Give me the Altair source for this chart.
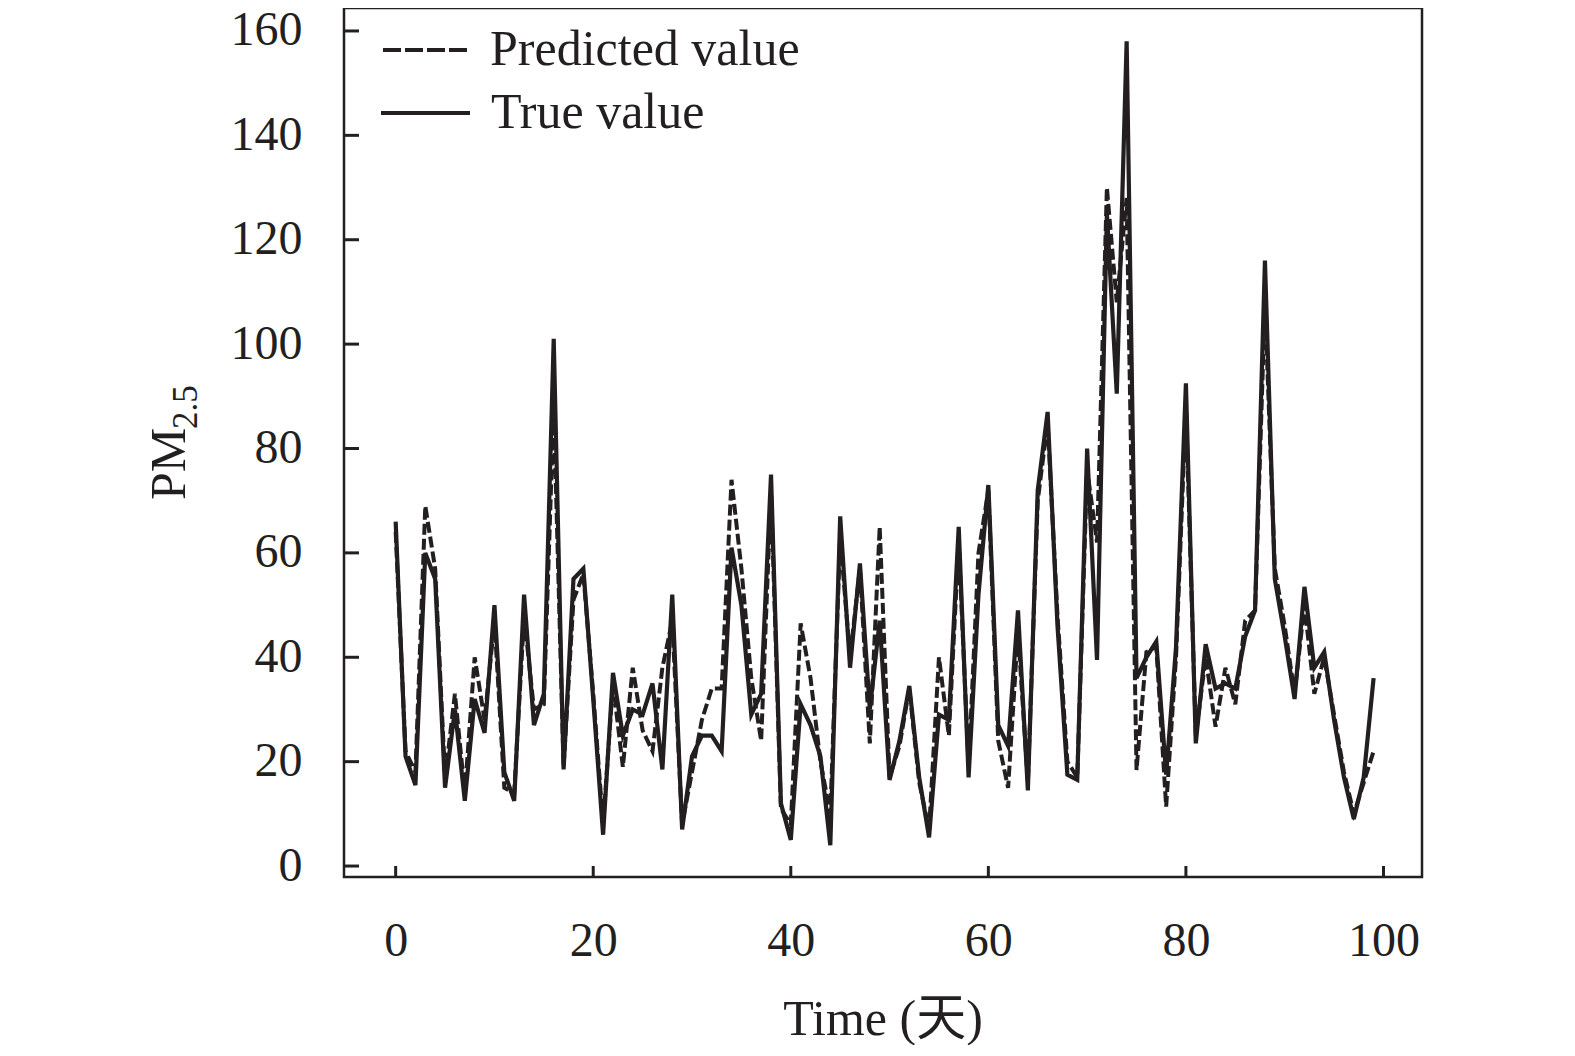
import pandas as pd
import altair as alt

# PM2.5 daily series
days = list(range(100))
true_vals = [66, 21, 15.5, 60, 55, 15, 30, 12.5, 32, 25.5,
             50, 18, 12.5, 52, 27, 33, 101, 18.5, 55, 57,
             32, 6, 37, 25, 30, 29, 35, 18.5, 52, 7,
             21, 25, 25, 22, 61, 50, 29, 33, 75, 12,
             5, 31, 27, 21, 4, 67, 38, 58, 30, 47,
             16.5, 24, 34.5, 17, 5.5, 29, 28, 65, 17, 52,
             73, 27, 23, 49, 14.5, 72, 87, 46, 17.5, 16.5,
             80, 39.5, 125, 90.5, 158, 36, 40, 43, 17.5, 42,
             92.5, 23.5, 42.5, 34, 35, 34, 44, 49, 116, 55,
             44, 32, 53.5, 38, 41, 28, 17, 9, 17, 36]
pred_vals = [64, 22, 18, 69, 57, 17, 33, 14, 40, 28,
             47, 15, 14, 48, 30, 31, 88, 19, 51, 56,
             33, 8, 35, 19, 38, 26, 22, 38, 47, 8,
             18, 28, 34, 34, 74, 57, 36, 24, 72, 11,
             8, 46.5, 36, 20, 10, 63, 40, 57, 23.5, 65,
             17, 23, 34, 16, 7, 40, 25, 62, 19, 60,
             72, 24, 15, 45, 16, 70, 85, 48, 20, 17,
             76, 62, 130, 108, 128, 18.4, 41, 42, 11.4, 40,
             88, 25, 40, 26.7, 38, 31, 47, 49, 108, 57,
             46, 33, 50, 33, 40, 29, 18, 10, 16, 22]
x_ticks = [0, 20, 40, 60, 80, 100]
y_ticks = [0, 20, 40, 60, 80, 100, 120, 140, 160]

ink = "#231f20"
serif = "Liberation Serif, 'Times New Roman', serif"
cjk = "Liberation Serif, 'Noto Sans CJK SC', serif"

true_df = pd.DataFrame({"day": days, "value": true_vals})
pred_df = pd.DataFrame({"day": days, "value": pred_vals})

x_scale = alt.Scale(domain=[-5.23, 103.9], nice=False, zero=False)
y_scale = alt.Scale(domain=[-2.1, 164.4], nice=False, zero=False)

x_enc = alt.X("day:Q", scale=x_scale,
              axis=alt.Axis(values=x_ticks, title="", grid=False, domain=False, ticks=False,
                            labelFont=serif, labelFontSize=48, labelColor=ink,
                            labelPadding=40, labelFlush=False))
y_enc = alt.Y("value:Q", scale=y_scale,
              axis=alt.Axis(values=y_ticks, title="", grid=False, domain=False, ticks=False,
                            labelFont=serif, labelFontSize=48, labelColor=ink,
                            labelPadding=42))

true_line = alt.Chart(true_df).mark_line(color=ink, strokeWidth=4.2).encode(x=x_enc, y=y_enc)
pred_line = alt.Chart(pred_df).mark_line(color=ink, strokeWidth=4, strokeDash=[11, 4]).encode(
    x="day:Q", y="value:Q")

# inward tick marks
ytick_df = pd.DataFrame({"value": y_ticks})
xtick_df = pd.DataFrame({"day": x_ticks})
ytick = alt.Chart(ytick_df).mark_rule(color=ink, strokeWidth=3).encode(
    y="value:Q", x=alt.value(0), x2=alt.value(15))
xtick = alt.Chart(xtick_df).mark_rule(color=ink, strokeWidth=3).encode(
    x="day:Q", y=alt.value(858), y2=alt.value(869))

# legend drawn by hand
one = pd.DataFrame({"a": [0]})
leg_pred = alt.Chart(one).mark_rule(color=ink, strokeWidth=4.2, strokeDash=[18, 4]).encode(
    x=alt.value(39), x2=alt.value(124), y=alt.value(42))
leg_true = alt.Chart(one).mark_rule(color=ink, strokeWidth=4.2).encode(
    x=alt.value(37), x2=alt.value(126), y=alt.value(105))
leg_pred_txt = alt.Chart(one).mark_text(text="Predicted value", align="left", baseline="middle",
                                        font=serif, fontSize=50, color=ink).encode(
    x=alt.value(146), y=alt.value(42))
leg_true_txt = alt.Chart(one).mark_text(text="True value", align="left", baseline="middle",
                                        font=serif, fontSize=50, color=ink).encode(
    x=alt.value(147), y=alt.value(105))

# axis titles
x_title = alt.Chart(one).mark_text(text="Time (天)", align="center", baseline="middle",
                                   font=cjk, fontSize=50, color=ink).encode(
    x=alt.value(539), y=alt.value(1012))
y_title = alt.Chart(one).mark_text(text="PM", angle=270, align="left", baseline="middle",
                                   font=serif, fontSize=50, color=ink).encode(
    x=alt.value(-174), y=alt.value(492))
y_sub = alt.Chart(one).mark_text(text="2.5", angle=270, align="left", baseline="middle",
                                 font=serif, fontSize=35, color=ink).encode(
    x=alt.value(-158), y=alt.value(421))

chart = (true_line + pred_line + ytick + xtick + leg_pred + leg_true + leg_pred_txt
         + leg_true_txt + x_title + y_title + y_sub).properties(
    width=1078, height=869,
    padding={"left": 336, "top": 0, "right": 125, "bottom": 168},
    autosize=alt.AutoSizeParams(type="none"),
    background="white",
).configure_view(stroke=ink, strokeWidth=2.5)

chart.save("out.html", embed_options={"renderer": "svg", "actions": False})
